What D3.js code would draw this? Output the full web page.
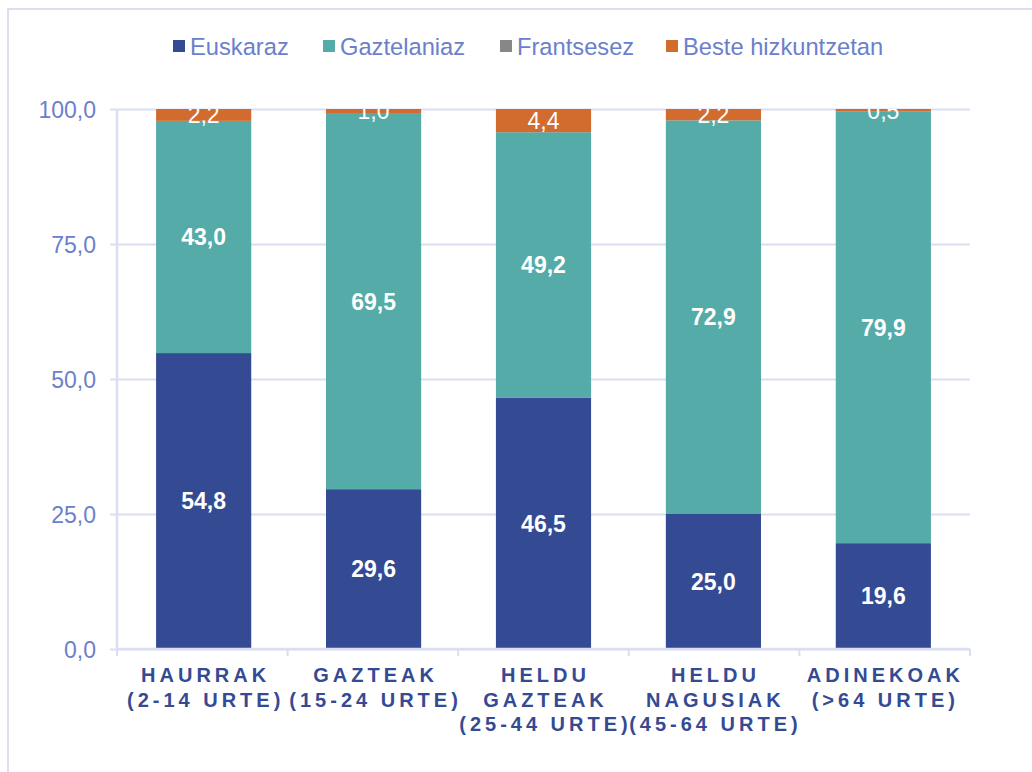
<!DOCTYPE html>
<html>
<head>
<meta charset="utf-8">
<script src="https://cdn.jsdelivr.net/npm/d3@7"></script>
<style>
  body { margin: 0; background: #ffffff; }
  svg { display: block; font-family: "Liberation Sans", Arial, sans-serif; }
</style>
</head>
<body>
<div id="main_output"></div>
<script>
// age groups, each label split on lines
var categories = ["HAURRAK", "GAZTEAK", "HELDU GAZTEAK", "HELDU NAGUSIAK", "ADINEKOAK"];
var categoryLines = [
  ["HAURRAK", "(2-14 URTE)"],
  ["GAZTEAK", "(15-24 URTE)"],
  ["HELDU", "GAZTEAK", "(25-44 URTE)"],
  ["HELDU", "NAGUSIAK", "(45-64 URTE)"],
  ["ADINEKOAK", "(>64 URTE)"]
];

var seriesNames = ["Euskaraz", "Gaztelaniaz", "Frantsesez", "Beste hizkuntzetan"];
var euskaraz = [54.8, 29.6, 46.5, 25.0, 19.6];
var gaztelaniaz = [43.0, 69.5, 49.2, 72.9, 79.9];
var frantsesez = [0, 0, 0, 0, 0];
var beste = [2.2, 1.0, 4.4, 2.2, 0.5];

var yTicks = [0, 25, 50, 75, 100];

const colours = ["#344a93", "#55aba7", "#878787", "#d26b2e"];
const grid_colour = "#d9def1";
const tick_text_colour = "#6b80cc";
const cat_text_colour = "#344a93";

var W = 1032, H = 772;
var margin = {top: 109, right: 62, bottom: 123, left: 117};
var width = W - margin.left - margin.right;
var height = H - margin.top - margin.bottom;

var table = categories.map(function(c, i) {
  return {cat: c, "Euskaraz": euskaraz[i], "Gaztelaniaz": gaztelaniaz[i],
          "Frantsesez": frantsesez[i], "Beste hizkuntzetan": beste[i]};
});
var stacked = d3.stack().keys(seriesNames)(table);

var x = d3.scaleBand().domain(categories).range([0, width])
    .paddingInner(0.44).paddingOuter(0.23);
var y = d3.scaleLinear().domain([0, 100]).range([height, 0]);
var colour = d3.scaleOrdinal().domain(seriesNames).range(colours);

var svg = d3.select("#main_output").append("svg")
    .attr("width", W).attr("height", H);

// chart frame
svg.append("rect")
    .attr("x", 8).attr("y", 9)
    .attr("width", W + 20).attr("height", H + 20)
    .attr("fill", "#ffffff")
    .attr("stroke", grid_colour).attr("stroke-width", 2);

var focus = svg.append("g")
    .attr("transform", "translate(" + margin.left + "," + margin.top + ")");

svg.append("defs").append("clipPath").attr("id", "plotclip")
  .append("rect").attr("x", 0).attr("y", 0).attr("width", width).attr("height", height);

// gridlines + y axis
var yAxis = d3.axisLeft(y).tickValues(yTicks).tickSize(-width).tickPadding(21)
    .tickFormat(function(d) { return d3.format(".1f")(d).replace(".", ","); });
var gy = focus.append("g").attr("class", "axis axis--y").call(yAxis);
gy.select(".domain").remove();
gy.selectAll(".tick line").attr("stroke", grid_colour).attr("stroke-width", 2).attr("x1", -7);
gy.selectAll(".tick text").attr("fill", tick_text_colour).attr("font-size", "23px")
    .attr("dy", "0.36em");

focus.append("line")
    .attr("x1", 0).attr("x2", 0).attr("y1", 0).attr("y2", height)
    .attr("stroke", grid_colour).attr("stroke-width", 2.5);

// bars
var plot = focus.append("g").attr("clip-path", "url(#plotclip)");
var layers = plot.selectAll("g.layer")
  .data(stacked)
  .enter().append("g")
    .attr("class", "layer")
    .attr("fill", function(d) { return colour(d.key); });

layers.selectAll("rect")
  .data(function(d) { return d; })
  .enter().append("rect")
    .attr("x", function(d) { return x(d.data.cat); })
    .attr("y", function(d) { return y(d[1]); })
    .attr("height", function(d) { return y(d[0]) - y(d[1]); })
    .attr("width", x.bandwidth());

// value labels
stacked.forEach(function(layer) {
  var bold = layer.key === "Euskaraz" || layer.key === "Gaztelaniaz";
  plot.selectAll(null)
    .data(layer.filter(function(d) { return d[1] - d[0] > 0; }))
    .enter().append("text")
      .attr("x", function(d) { return x(d.data.cat) + x.bandwidth() / 2; })
      .attr("y", function(d) { return y((d[0] + d[1]) / 2); })
      .attr("dy", "0.36em")
      .attr("text-anchor", "middle")
      .attr("fill", "#ffffff")
      .attr("font-size", "23px")
      .attr("font-weight", bold ? "bold" : "normal")
      .text(function(d) { return d3.format(".1f")(d[1] - d[0]).replace(".", ","); });
});

// x axis
var xAxis = d3.axisBottom(x).tickSize(0).tickFormat("");
var gx = focus.append("g").attr("transform", "translate(0," + height + ")").call(xAxis);
gx.select(".domain").remove();
focus.append("line")
    .attr("x1", 0).attr("x2", width).attr("y1", height).attr("y2", height)
    .attr("stroke", grid_colour).attr("stroke-width", 2.5);
var step = width / categories.length;
var bounds = d3.range(categories.length + 1).map(function(i) { return i * step; });
focus.selectAll("line.xtick")
  .data(bounds)
  .enter().append("line")
    .attr("class", "xtick")
    .attr("x1", function(d) { return d; }).attr("x2", function(d) { return d; })
    .attr("y1", height).attr("y2", height + 7)
    .attr("stroke", grid_colour).attr("stroke-width", 2);

var catLabels = focus.selectAll("text.cat")
  .data(categories)
  .enter().append("text")
    .attr("class", "cat")
    .attr("text-anchor", "middle")
    .attr("fill", cat_text_colour)
    .attr("font-size", "20px")
    .attr("font-weight", "bold")
    .attr("letter-spacing", "4px");

catLabels.each(function(c, i) {
  var t = d3.select(this);
  var cx = x(c) + x.bandwidth() / 2 + 2;
  categoryLines[i].forEach(function(line, j) {
    t.append("tspan")
      .attr("x", cx)
      .attr("y", height + 33 + j * 24.5)
      .text(line);
  });
});

// legend
var legendX = [173, 323, 500, 666];
var legend = svg.append("g").selectAll("g")
  .data(seriesNames)
  .enter().append("g")
    .attr("transform", function(d, i) { return "translate(" + legendX[i] + ",46)"; });
legend.append("rect")
    .attr("x", 0).attr("y", -6).attr("width", 12).attr("height", 12)
    .attr("fill", function(d) { return colour(d); });
legend.append("text")
    .attr("x", 17).attr("dy", "0.36em")
    .attr("fill", tick_text_colour)
    .attr("font-size", "23.7px")
    .text(function(d) { return d; });
</script>
</body>
</html>
